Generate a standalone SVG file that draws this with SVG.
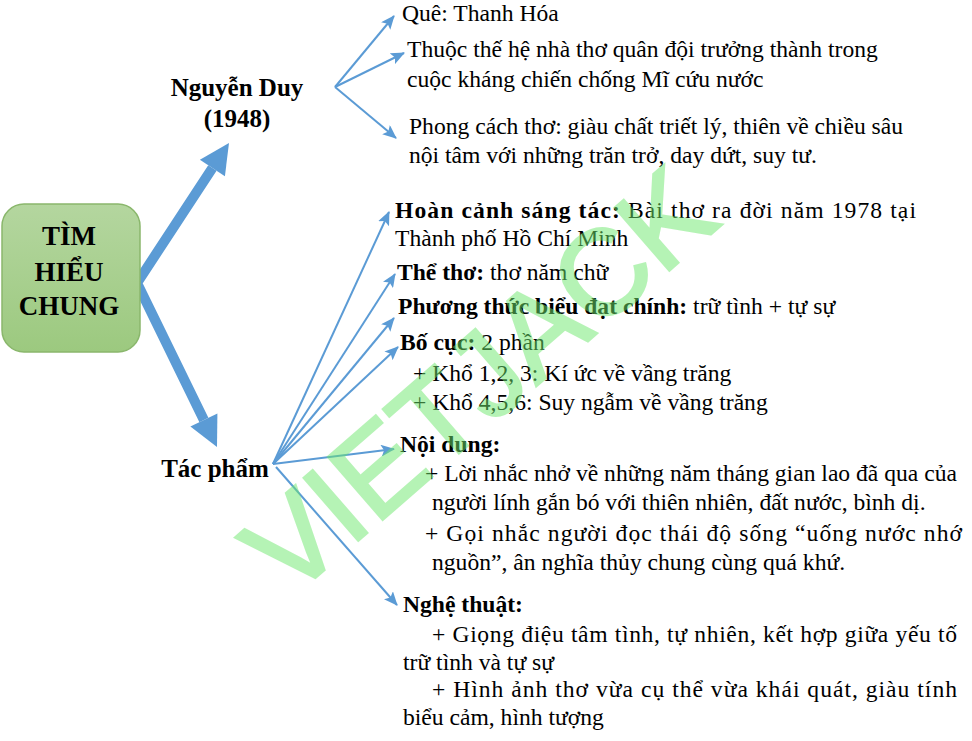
<svg xmlns="http://www.w3.org/2000/svg" width="972" height="741" viewBox="0 0 972 741">
<defs>
<linearGradient id="g" x1="0" y1="0" x2="0" y2="1">
<stop offset="0" stop-color="#b4d69f"/>
<stop offset="1" stop-color="#9cc97f"/>
</linearGradient>
<marker id="ah" markerUnits="userSpaceOnUse" markerWidth="14" markerHeight="12" refX="13" refY="6" orient="auto">
<path d="M0,0 L14,6 L0,12 L3,6 Z" fill="#5b9bd5"/>
</marker>
<style>
.t{font-family:"Liberation Serif","Times New Roman",serif;font-size:23.6px;fill:#000}
.b{font-weight:bold}
.h{font-family:"Liberation Serif","Times New Roman",serif;font-size:25px;font-weight:bold;fill:#000;text-anchor:middle}
.thin{stroke:#5b9bd5;stroke-width:2;fill:none;marker-end:url(#ah)}
.thick{stroke:#5b9bd5;stroke-width:10;fill:none;stroke-linejoin:miter}
.head{fill:#5b9bd5}
</style>
</defs>
<rect width="972" height="741" fill="#fff"/>
<g id="connectors">
<path class="thick" d="M212.4,168 L137,283 L203.9,420"/>
<polygon class="head" points="229,143 224.9,176.3 199.9,159.7"/>
<polygon class="head" points="217,447 217.4,413.5 190.4,426.5"/>
<line class="thin" x1="335" y1="87" x2="394" y2="16"/>
<line class="thin" x1="335" y1="87" x2="404" y2="53"/>
<line class="thin" x1="335" y1="87" x2="396" y2="138"/>
<line class="thin" x1="273" y1="464" x2="389" y2="212"/>
<line class="thin" x1="273" y1="464" x2="395" y2="274"/>
<line class="thin" x1="273" y1="464" x2="394" y2="318"/>
<line class="thin" x1="273" y1="464" x2="398" y2="347"/>
<line class="thin" x1="273" y1="464" x2="394" y2="449"/>
<line class="thin" x1="276" y1="467" x2="397" y2="605"/>
</g>
<g id="root">
<rect x="2" y="204" width="138" height="148" rx="22" fill="url(#g)" stroke="#8ab76c" stroke-width="1.5"/>
<text class="h" x="69" y="245" style="font-size:27px">TÌM</text>
<text class="h" x="69" y="281" style="font-size:27px">HIỂU</text>
<text class="h" x="69" y="315" style="font-size:27px">CHUNG</text>
</g>
<g id="nguyen-duy">
<text class="h" x="237" y="96">Nguyễn Duy</text>
<text class="h" x="237" y="127">(1948)</text>
</g>
<g id="tac-pham">
<text class="h" x="215" y="477">Tác phẩm</text>
</g>
<g id="que">
<text class="t" x="402" y="21">Quê: Thanh Hóa</text>
</g>
<g id="the-he">
<text class="t" x="407" y="57">Thuộc thế hệ nhà thơ quân đội trưởng thành trong</text>
<text class="t" x="407" y="87">cuộc kháng chiến chống Mĩ cứu nước</text>
</g>
<g id="phong-cach">
<text class="t" x="409" y="134">Phong cách thơ: giàu chất triết lý, thiên về chiều sâu</text>
<text class="t" x="409" y="163">nội tâm với những trăn trở, day dứt, suy tư.</text>
</g>
<g id="hoan-canh">
<text class="t" x="395" y="218" textLength="521" lengthAdjust="spacing"><tspan class="b">Hoàn cảnh sáng tác:</tspan> Bài thơ ra đời năm 1978 tại</text>
<text class="t" x="395" y="246">Thành phố Hồ Chí Minh</text>
</g>
<g id="the-tho">
<text class="t" x="397" y="280"><tspan class="b">Thể thơ:</tspan> thơ năm chữ</text>
</g>
<g id="phuong-thuc">
<text class="t" x="398" y="314"><tspan class="b">Phương thức biểu đạt chính:</tspan> trữ tình + tự sự</text>
</g>
<g id="bo-cuc">
<text class="t" x="400" y="350"><tspan class="b">Bố cục:</tspan> 2 phần</text>
<text class="t" x="413" y="381">+ Khổ 1,2, 3: Kí ức về vầng trăng</text>
<text class="t" x="413" y="410">+ Khổ 4,5,6: Suy ngẫm về vầng trăng</text>
</g>
<g id="noi-dung">
<text class="t b" x="400" y="452">Nội dung:</text>
<text class="t" x="425" y="481">+ Lời nhắc nhở về những năm tháng gian lao đã qua của</text>
<text class="t" x="432" y="510">người lính gắn bó với thiên nhiên, đất nước, bình dị.</text>
<text class="t" x="425" y="541" textLength="537" lengthAdjust="spacing">+ Gọi nhắc người đọc thái độ sống “uống nước nhớ</text>
<text class="t" x="432" y="570">nguồn”, ân nghĩa thủy chung cùng quá khứ.</text>
</g>
<g id="nghe-thuat">
<text class="t b" x="403" y="612">Nghệ thuật:</text>
<text class="t" x="432" y="642" textLength="525" lengthAdjust="spacing">+ Giọng điệu tâm tình, tự nhiên, kết hợp giữa yếu tố</text>
<text class="t" x="403" y="670">trữ tình và tự sự</text>
<text class="t" x="432" y="697" textLength="525" lengthAdjust="spacing">+ Hình ảnh thơ vừa cụ thể vừa khái quát, giàu tính</text>
<text class="t" x="403" y="725">biểu cảm, hình tượng</text>
</g>
<g id="watermark" opacity="0.5">
<text x="0" y="0" transform="translate(506,412) rotate(-41)" text-anchor="middle" style="font-family:'Liberation Sans',Arial,sans-serif;font-size:120px;fill:#6ee86e;stroke:#6ee86e;stroke-width:3">VIETJACK</text>
</g>
</svg>
